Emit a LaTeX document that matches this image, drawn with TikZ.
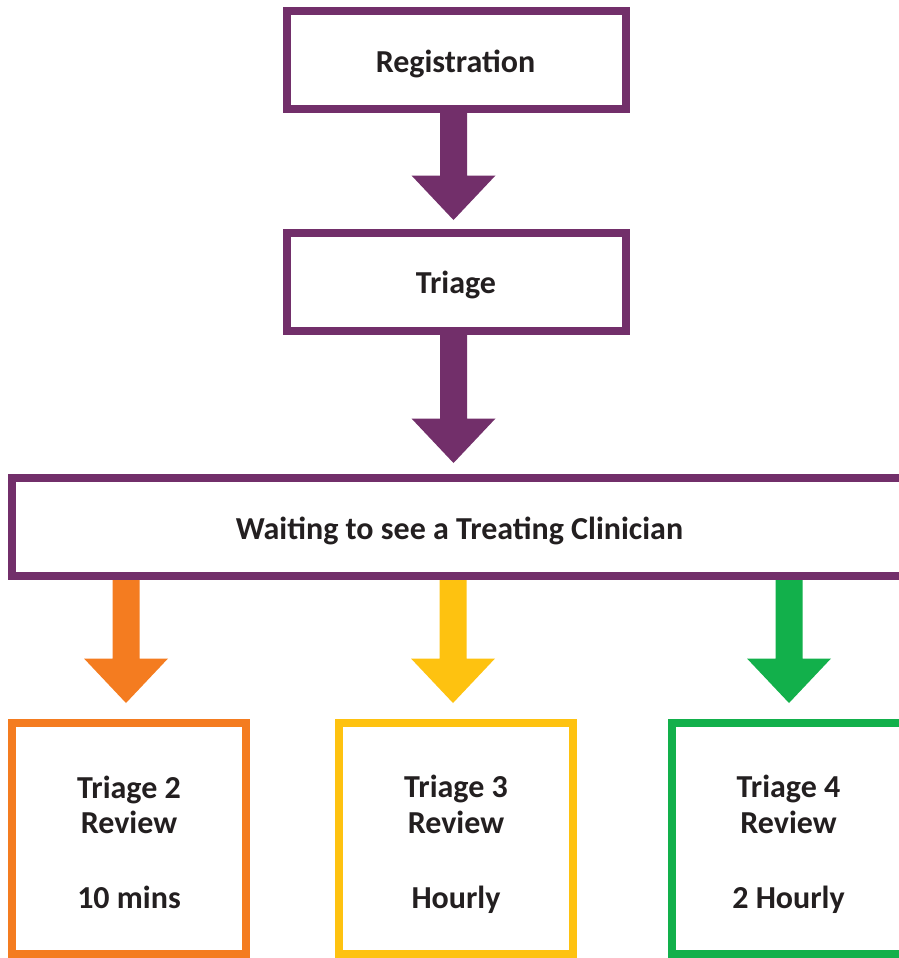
\documentclass[tikz,border=0pt]{standalone}
\usepackage{fontspec}
\setmainfont{Carlito}
\usetikzlibrary{calc}
\definecolor{purp}{HTML}{722F6A}
\definecolor{orng}{HTML}{F47C20}
\definecolor{yelw}{HTML}{FEC210}
\definecolor{grn}{HTML}{12B04B}
\definecolor{ink}{HTML}{231F20}
\tikzset{
  box/.style={draw=#1, line width=8pt, fill=white, inner sep=0pt},
  lbl/.style={anchor=base, text=ink, font=\fontsize{32}{36}\selectfont\bfseries, inner sep=0pt},
  sublbl/.style={anchor=base, text=ink, font=\fontsize{32}{36}\selectfont\bfseries, inner sep=0pt}
}
% #1 colour, #2 start point, #3 tip point
\newcommand{\fatarrow}[3]{%
  \fill[#1] let \p1=#2, \p2=#3 in
    (\x1-13.5pt,\y1) -- (\x1+13.5pt,\y1) -- (\x1+13.5pt,\y2+44.5pt) --
    (\x1+42pt,\y2+44.5pt) -- (\x1,\y2) -- (\x1-42pt,\y2+44.5pt) --
    (\x1-13.5pt,\y2+44.5pt) -- cycle;}
\begin{document}
\begin{tikzpicture}[x=1pt,y=-1pt]
\useasboundingbox (0,0) rectangle (899,958);
\clip (0,0) rectangle (899,958);
\fill[white] (0,0) rectangle (899,958);

\node[box=purp, minimum width=339pt, minimum height=98pt] (reg) at (456.5,60) {};
\node[box=purp, minimum width=339pt, minimum height=98pt] (tri) at (456.5,282) {};
\node[box=purp, minimum width=895pt, minimum height=98pt] (wait) at (459.5,527) {};
\node[box=orng, minimum width=234pt, minimum height=231pt] (t2) at (129,838.5) {};
\node[box=yelw, minimum width=234pt, minimum height=231pt] (t3) at (456,838.5) {};
\node[box=grn, minimum width=234pt, minimum height=231pt] (t4) at (789,838.5) {};

\node[lbl] (regtxt) at (455.5,72) {Registration};
\node[lbl] (tritxt) at (456,293) {Triage};
\node[lbl] (waittxt) at (459.5,539) {Waiting to see a Treating Clinician};

\node[sublbl] (t2a) at (129,798) {Triage 2};
\node[sublbl] (t2b) at (129,833) {Review};
\node[sublbl] (t2c) at (129,908) {10 mins};
\node[sublbl] (t3a) at (456,797) {Triage 3};
\node[sublbl] (t3b) at (456,833) {Review};
\node[sublbl] (t3c) at (456,908) {Hourly};
\node[sublbl] (t4a) at (788.5,797) {Triage 4};
\node[sublbl] (t4b) at (788.5,833) {Review};
\node[sublbl] (t4c) at (788.5,908) {2 Hourly};

\fatarrow{purp}{([xshift=-3pt]reg.south)}{([xshift=-3pt,yshift=9pt]tri.north)}
\fatarrow{purp}{([xshift=-3pt]tri.south)}{([xshift=-3pt,yshift=11pt]tri.north |- wait.north)}
\fatarrow{orng}{([xshift=-3pt]t2.north |- wait.south)}{([xshift=-3pt,yshift=16pt]t2.north)}
\fatarrow{yelw}{([xshift=-3pt]t3.north |- wait.south)}{([xshift=-3pt,yshift=16pt]t3.north)}
\fatarrow{grn}{(t4.north |- wait.south)}{([yshift=16pt]t4.north)}
\end{tikzpicture}
\end{document}
